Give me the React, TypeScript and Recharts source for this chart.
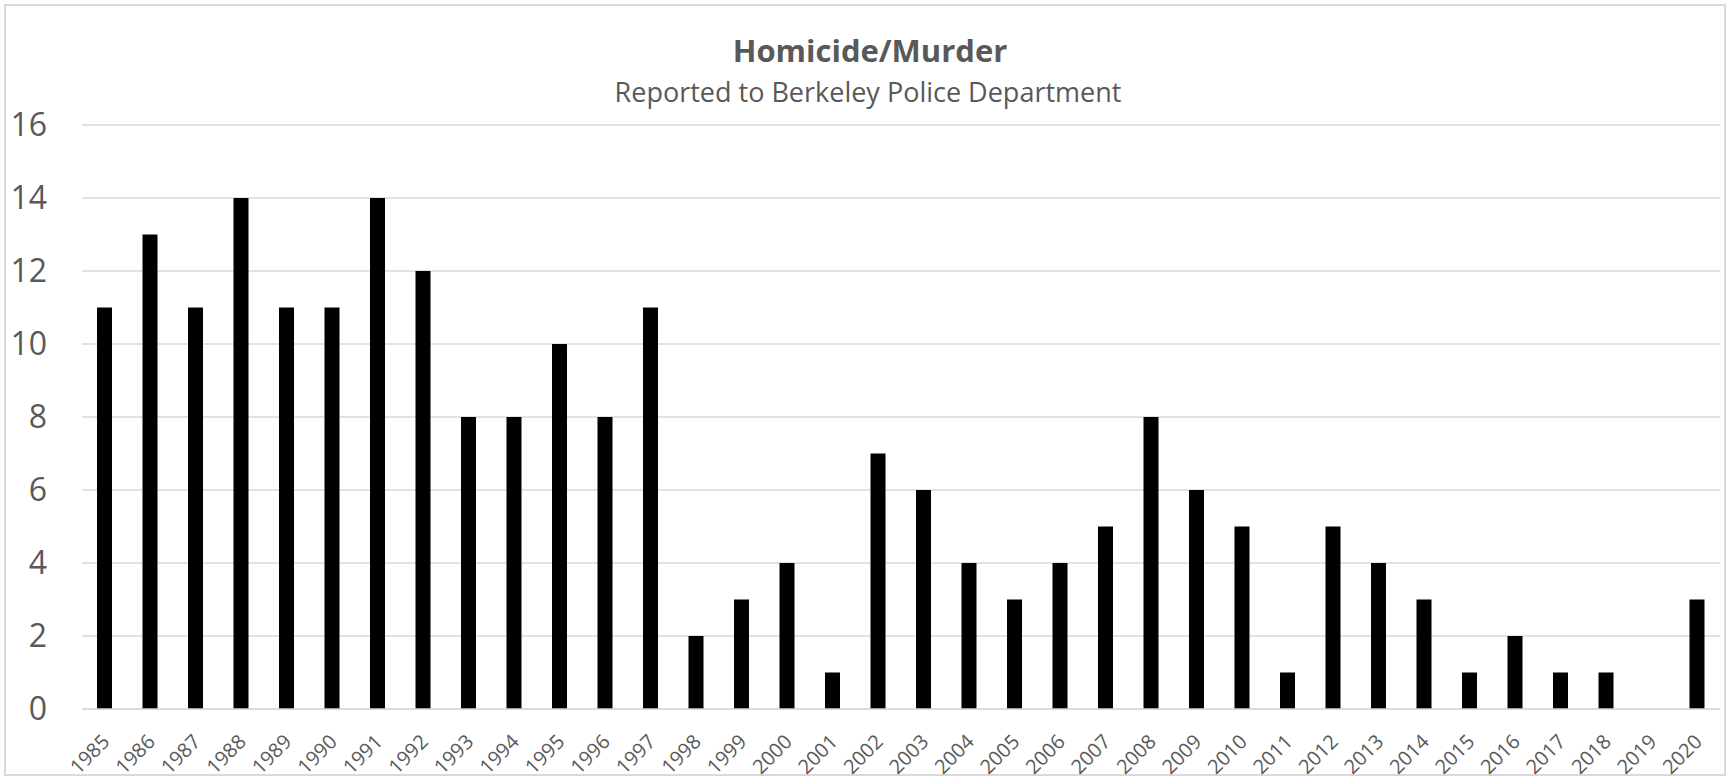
import React from 'react';
import { BarChart, Bar, XAxis, YAxis, CartesianGrid } from 'recharts';

const years = [
  '1985', '1986', '1987', '1988', '1989', '1990', '1991', '1992', '1993', '1994', '1995', '1996',
  '1997', '1998', '1999', '2000', '2001', '2002', '2003', '2004', '2005', '2006', '2007', '2008',
  '2009', '2010', '2011', '2012', '2013', '2014', '2015', '2016', '2017', '2018', '2019', '2020',
];
const homicides = [
  11, 13, 11, 14, 11, 11, 14, 12, 8, 8, 10, 8,
  11, 2, 3, 4, 1, 7, 6, 4, 3, 4, 5, 8,
  6, 5, 1, 5, 4, 3, 1, 2, 1, 1, 0, 3,
];
const yTicks = [0, 2, 4, 6, 8, 10, 12, 14, 16];

const chartTitle = 'Homicide/Murder';
const chartSubtitle = 'Reported to Berkeley Police Department';

const FONT = '"Open Sans", "Noto Sans", sans-serif';
const TEXT = '#595959';
const GRID = '#d9d9d9';

const data = years.map((year, i) => ({ year, count: homicides[i] }));

// rotated year labels, anchored just right of the bar centre like Excel does
const YearTick = (props: any) => {
  const { x, y, payload } = props;
  const tx = 6;
  const ty = 26;
  return (
    <g transform={`translate(${x},${y})`}>
      <text
        x={tx}
        y={ty}
        textAnchor="end"
        fill={TEXT}
        fontSize={20}
        fontFamily={FONT}
        transform={`rotate(-45, ${tx}, ${ty})`}
      >
        {payload.value}
      </text>
    </g>
  );
};

const App: React.FC = () => {
  return (
    <div style={{ position: 'absolute', left: 0, top: 0, width: 1732, height: 782, background: '#fff' }}>
      <div
        style={{
          position: 'absolute',
          left: 4,
          top: 4,
          width: 1722,
          height: 772,
          border: `2px solid ${GRID}`,
          boxSizing: 'border-box',
        }}
      />
      <svg style={{ position: 'absolute', left: 0, top: 0 }} width={1732} height={120}>
        <text x={870} y={62} textAnchor="middle" fill={TEXT} fontSize={31} fontWeight="bold" fontFamily={FONT}>
          {chartTitle}
        </text>
        <text x={868} y={102} textAnchor="middle" fill={TEXT} fontSize={27} fontFamily={FONT}>
          {chartSubtitle}
        </text>
      </svg>
      <div style={{ position: 'absolute', left: 0, top: 0 }}>
        <BarChart
          width={1732}
          height={782}
          data={data}
          margin={{ top: 125, right: 12, bottom: 0, left: 0 }}
          barSize={15}
        >
          <CartesianGrid vertical={false} stroke={GRID} strokeWidth={1.5} />
          <XAxis
            dataKey="year"
            interval={0}
            tickLine={false}
            axisLine={{ stroke: GRID, strokeWidth: 1.5 }}
            height={73}
            tick={<YearTick />}
          />
          <YAxis
            domain={[0, 16]}
            ticks={yTicks}
            width={82}
            axisLine={false}
            tickLine={false}
            tickMargin={29}
            tick={{ fill: TEXT, fontSize: 32, fontFamily: FONT }}
          />
          <Bar dataKey="count" fill="#000000" isAnimationActive={false} />
        </BarChart>
      </div>
    </div>
  );
};

export default App;
